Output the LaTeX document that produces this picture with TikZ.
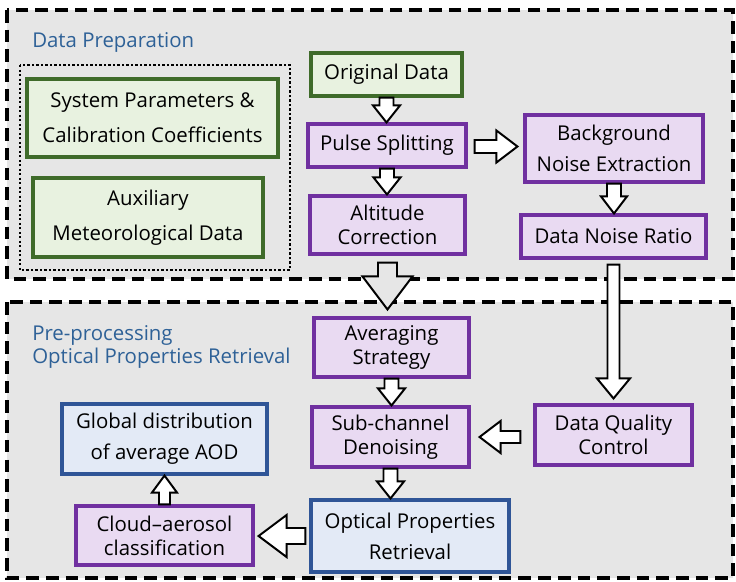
\documentclass[tikz,border=0pt]{standalone}
\usepackage{fontspec}
\setmainfont{Open Sans}
\usepackage{tikz}
\usetikzlibrary{calc}

\definecolor{panelgray}{HTML}{E6E6E6}
\definecolor{titleblue}{HTML}{2E6197}
\definecolor{greenline}{HTML}{3F6B2A}
\definecolor{greenfill}{HTML}{E8F2E0}
\definecolor{purpleline}{HTML}{7030A0}
\definecolor{purplefill}{HTML}{E9DAF2}
\definecolor{blueline}{HTML}{2F5597}
\definecolor{bluefill}{HTML}{E3EAF6}

\tikzset{
  box/.style={draw, line width=2.2pt, align=center, inner sep=1pt,
    font=\fontsize{14.5}{17}\selectfont},
  loose/.style={font=\fontsize{14.5}{22}\selectfont},
  looser/.style={font=\fontsize{14.5}{25}\selectfont},
  boxsize/.style 2 args={minimum width=#1*0.025cm, minimum height=#2*0.025cm},
  greenbox/.style={box, draw=greenline, fill=greenfill},
  purplebox/.style={box, draw=purpleline, fill=purplefill},
  bluebox/.style={box, draw=blueline, fill=bluefill},
  panel/.style={draw, fill=panelgray, line width=2.3pt, dash pattern=on 9pt off 5pt},
  dotbox/.style={draw, line width=1.5pt, dash pattern=on 1.5pt off 1.7pt},
  title/.style={text=titleblue, align=left, inner sep=0pt,
    font=\fontsize{14.5}{17}\selectfont},
  hollow/.style={draw, fill=white, line width=1.4pt, line join=miter},
}

% hollow block arrow: from, to, half shaft, half head, head length (in px)
\newcommand{\hollowarrow}[6][]{%
  \draw[hollow,#1] let \p1=(#2), \p2=(#3),
      \n1={atan2(\y2-\y1,\x2-\x1)}, \n2={veclen(\x2-\x1,\y2-\y1)} in
    ($(\p1)+(\n1+90:#4*0.7113pt)$) -- ++(\n1:{\n2-#6*0.7113pt})
    -- ++(\n1+90:{(#5-#4)*0.7113pt}) -- (\p2)
    -- ($(\p1)+(\n1:{\n2-#6*0.7113pt})+(\n1-90:#5*0.7113pt)$)
    -- ++(\n1+90:{(#5-#4)*0.7113pt}) -- ($(\p1)+(\n1-90:#4*0.7113pt)$) -- cycle;
}

\begin{document}
\begin{tikzpicture}[x=0.025cm,y=-0.025cm]
    \path[use as bounding box, fill=white] (0,0) rectangle (736,581);
    % Draw the two panels
    \draw[panel] (7,10) rectangle (733,279);
    \draw[panel] (7,302) rectangle (733,578);
    \node[title, anchor=west] (prep) at (32,42) {Data Preparation};
    \node[title, anchor=west] (proc) at (32,347) {Pre-processing\\Optical Properties Retrieval};

    % Data preparation
    \draw[dotbox] (20,65) rectangle (290,270);
    \node[greenbox, looser, boxsize={251}{78}] (sys) at (152.5,118) {System Parameters \&\\Calibration Coefficients};
    \node[greenbox, looser, boxsize={230}{79}] (aux) at (148,217.5) {Auxiliary\\Meteorological Data};
    \node[greenbox, boxsize={151}{43}] (orig) at (386.5,74.5) {Original Data};
    \node[purplebox, boxsize={158}{43}] (pulse) at (387,145.5) {Pulse Splitting};
    \node[purplebox, boxsize={155}{58}] (alt) at (387.5,225) {Altitude\\Correction};
    \node[purplebox, loose, boxsize={178}{67}] (bg) at (614,148.5) {Background\\Noise Extraction};
    \node[purplebox, boxsize={185}{43}] (dnr) at (613.5,236.5) {Data Noise Ratio};

    % Pre-processing and retrieval
    \node[purplebox, boxsize={155}{59}] (avg) at (391.5,347.5) {Averaging\\Strategy};
    \node[purplebox, boxsize={157}{60}] (sub) at (390.5,437) {Sub-channel\\Denoising};
    \node[purplebox, boxsize={157}{60}] (dqc) at (613.5,435) {Data Quality\\Control};
    \node[bluebox, loose, boxsize={198}{72}] (opt) at (410,536) {Optical Properties\\Retrieval};
    \node[bluebox, loose, boxsize={205}{70}] (glob) at (164.5,439) {Global distribution\\of average AOD};
    \node[purplebox, boxsize={177}{59}] (cloud) at (164.5,535.5) {Cloud--aerosol\\classification};

    % Draw the arrows
    \hollowarrow{orig.south}{orig.south |- pulse.north}{7}{13.5}{17}
    \hollowarrow{pulse.south}{pulse.south |- alt.north}{7}{13.5}{17}
    \hollowarrow{$(pulse.east)+(7,1)$}{$(pulse.east -| bg.west)+(-6,1)$}{6.5}{16}{21}
    \hollowarrow{bg.south}{bg.south |- dnr.north}{7}{13}{17}
    \hollowarrow[fill=panelgray]{$(alt.south)+(0,7)$}{$(alt.south |- avg.north)+(0,-7)$}{9.5}{25}{33}
    \hollowarrow{$(dnr.south)+(0,5)$}{$(dnr.south |- dqc.north)+(0,-5)$}{6}{16.5}{20}
    \hollowarrow{avg.south}{avg.south |- sub.north}{7}{13.5}{17}
    \hollowarrow{$(dqc.west)+(-13,2)$}{$(dqc.west -| sub.east)+(9,2)$}{6}{16}{21}
    \hollowarrow{sub.south}{sub.south |- opt.north}{7}{13.5}{17}
    \hollowarrow{$(opt.west)+(-4,0)$}{$(opt.west -| cloud.east)+(4,0)$}{8}{21}{28}
    \hollowarrow{cloud.north}{cloud.north |- glob.south}{5.5}{12.5}{17}

\end{tikzpicture}
\end{document}
